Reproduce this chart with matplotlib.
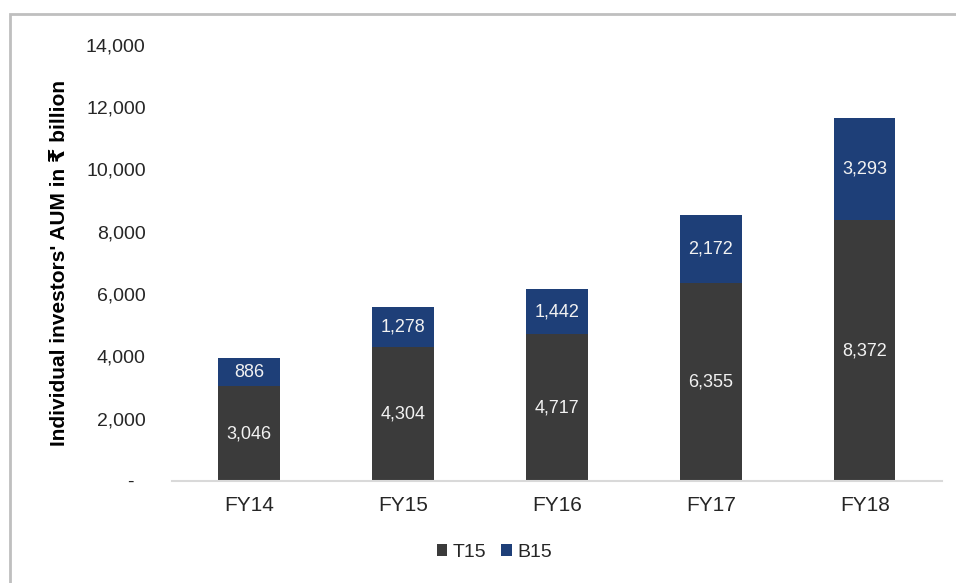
import matplotlib.pyplot as plt
from matplotlib.patches import Rectangle
from matplotlib.ticker import FuncFormatter

plt.rcParams['font.family'] = ['Liberation Sans', 'DejaVu Sans']

years = ["FY14", "FY15", "FY16", "FY17", "FY18"]
t15 = [3046, 4304, 4717, 6355, 8372]
b15 = [886, 1278, 1442, 2172, 3293]

c_t15 = "#3B3B3B"
c_b15 = "#1E3F78"

fig = plt.figure(figsize=(9.56, 5.83), dpi=100)
ax = fig.add_axes([0.18, 0.175, 0.805, 0.748])

x = range(len(years))
bars_t = ax.bar(x, t15, width=0.40, color=c_t15, label="T15")
bars_b = ax.bar(x, b15, width=0.40, bottom=t15, color=c_b15, label="B15")

for rect, v in zip(bars_t, t15):
    ax.text(rect.get_x() + rect.get_width() / 2, v / 2, f"{v:,}",
            ha="center", va="center", color="#F2F2F2", fontsize=13)
for rect, base, v in zip(bars_b, t15, b15):
    ax.text(rect.get_x() + rect.get_width() / 2, base + v / 2, f"{v:,}",
            ha="center", va="center", color="#F2F2F2", fontsize=13)

ax.set_xlim(-0.5, len(years) - 0.5)
ax.set_ylim(0, 14000)
ax.set_yticks(range(0, 14001, 2000))
ax.yaxis.set_major_formatter(FuncFormatter(lambda v, p: "-  " if v == 0 else f"{int(v):,}"))
ax.set_xticks(list(x))
ax.set_xticklabels(years)
ax.tick_params(axis="both", length=0, colors="#262626")
ax.tick_params(axis="y", pad=19, labelsize=14)
ax.tick_params(axis="x", pad=11, labelsize=15)

for s in ["top", "right", "left"]:
    ax.spines[s].set_visible(False)
ax.spines["bottom"].set_color("#D9D9D9")
ax.spines["bottom"].set_linewidth(1.5)

ax.set_ylabel("Individual investors' AUM in ₹ billion", fontsize=15,
              fontweight="bold", color="#000000", labelpad=12)

leg = fig.legend(handles=[bars_t, bars_b], labels=["T15", "B15"],
                 loc="center", bbox_to_anchor=(0.517, 0.052), ncol=2,
                 frameon=False, fontsize=14, handlelength=0.55,
                 handleheight=0.55, handletextpad=0.25, columnspacing=0.8)
for t in leg.get_texts():
    t.set_color("#262626")

# outer frame
W, H = 956, 583
fig.patches.append(Rectangle((10 / W, -0.05), 1.1, (H - 14) / H + 0.05,
                             transform=fig.transFigure, fill=False,
                             edgecolor="#BFBFBF", linewidth=2, zorder=0))

fig.savefig("out.png", dpi=100)
